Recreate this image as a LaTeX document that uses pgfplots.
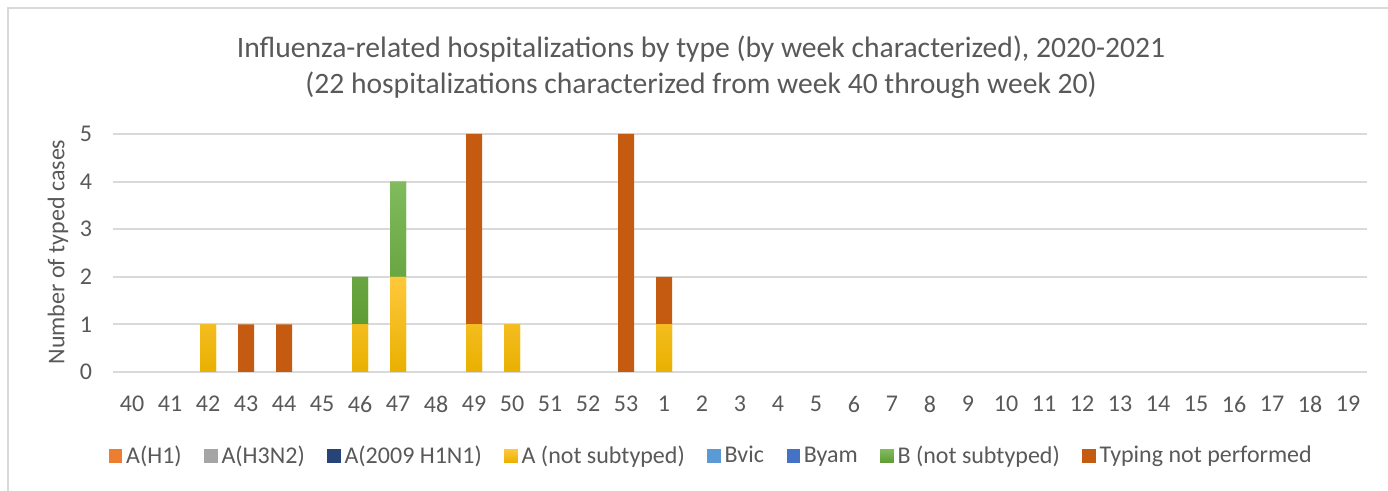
\documentclass[border=0pt]{standalone}
\usepackage{fontspec}
\setmainfont{Carlito}
\usepackage{pgfplots}
\usepackage{pgfplotstable}
\pgfplotsset{compat=1.18}
\definecolor{txt}{HTML}{595959}
\definecolor{gridc}{HTML}{D9D9D9}
\definecolor{cAH1}{HTML}{ED7D31}
\definecolor{cH3}{HTML}{A5A5A5}
\definecolor{c09}{HTML}{264478}
\definecolor{cA}{HTML}{FFC000}
\definecolor{cAtop}{HTML}{FFC83C}
\definecolor{cAbot}{HTML}{E9B000}
\definecolor{cBv}{HTML}{5B9BD5}
\definecolor{cBy}{HTML}{4472C4}
\definecolor{cB}{HTML}{70AD47}
\definecolor{cBtop}{HTML}{80BB5E}
\definecolor{cBbot}{HTML}{5E9C34}
\definecolor{cT}{HTML}{C55A11}
\pgfplotstableread{
x AH1 H3 H09 A Bv By B T
0 0 0 0 0 0 0 0 0
1 0 0 0 0 0 0 0 0
2 0 0 0 1 0 0 0 0
3 0 0 0 0 0 0 0 1
4 0 0 0 0 0 0 0 1
5 0 0 0 0 0 0 0 0
6 0 0 0 1 0 0 1 0
7 0 0 0 2 0 0 2 0
8 0 0 0 0 0 0 0 0
9 0 0 0 1 0 0 0 4
10 0 0 0 1 0 0 0 0
11 0 0 0 0 0 0 0 0
12 0 0 0 0 0 0 0 0
13 0 0 0 0 0 0 0 5
14 0 0 0 1 0 0 0 1
15 0 0 0 0 0 0 0 0
16 0 0 0 0 0 0 0 0
17 0 0 0 0 0 0 0 0
18 0 0 0 0 0 0 0 0
19 0 0 0 0 0 0 0 0
20 0 0 0 0 0 0 0 0
21 0 0 0 0 0 0 0 0
22 0 0 0 0 0 0 0 0
23 0 0 0 0 0 0 0 0
24 0 0 0 0 0 0 0 0
25 0 0 0 0 0 0 0 0
26 0 0 0 0 0 0 0 0
27 0 0 0 0 0 0 0 0
28 0 0 0 0 0 0 0 0
29 0 0 0 0 0 0 0 0
30 0 0 0 0 0 0 0 0
31 0 0 0 0 0 0 0 0
32 0 0 0 0 0 0 0 0
}\data
\begin{document}
\begin{tikzpicture}
\useasboundingbox (0,0) rectangle (694pt,245.5pt);
\draw[gridc, line width=1pt] (4pt,-1pt) -- (4pt,241.5pt) -- (695pt,241.5pt);
\node[txt, font=\fontsize{14.8}{18}\selectfont, align=center] at (350.5pt,211.8pt) {Influenza-related hospitalizations by type (by week characterized), 2020-2021\\(22 hospitalizations characterized from week 40 through week 20)};
\node[txt, rotate=90, font=\fontsize{12}{14}\selectfont] at (29pt,119.5pt) {Number of typed cases};
\begin{axis}[at={(56.5pt,59.5pt)}, anchor=south west, width=627pt, height=119pt, scale only axis,
  ybar stacked, bar width=8pt,
  xmin=-0.5, xmax=32.5, ymin=0, ymax=5,
  ytick={0,1,2,3,4,5},
  xtick={0,...,32},
  xticklabels={40,41,42,43,44,45,46,47,48,49,50,51,52,53,1,2,3,4,5,6,7,8,9,10,11,12,13,14,15,16,17,18,19},
  axis line style={draw=none}, major tick length=0pt,
  ymajorgrids, grid style={gridc, line width=1pt},
  tick label style={txt, font=\fontsize{12}{14}\selectfont},
  /pgf/number format/assume math mode=true,
  xticklabel shift=8.5pt, yticklabel shift=7pt,
  legend columns=8,
  legend style={draw=none, at={(0.478,-0.353)}, anchor=center, font=\fontsize{12}{14}\selectfont, text=txt,
    /tikz/every even column/.append style={column sep=9.3pt}},
  legend image code/.code={\fill[#1] (0pt,-3.3pt) rectangle (6.6pt,3.3pt);},
]
\addplot[fill=cAH1, draw=none] table[x=x,y=AH1]{\data};
\addplot[fill=cH3, draw=none] table[x=x,y=H3]{\data};
\addplot[fill=c09, draw=none] table[x=x,y=H09]{\data};
\addplot[fill=cA, draw=none, top color=cAtop, bottom color=cAbot] table[x=x,y=A]{\data};
\addplot[fill=cBv, draw=none] table[x=x,y=Bv]{\data};
\addplot[fill=cBy, draw=none] table[x=x,y=By]{\data};
\addplot[fill=cB, draw=none, top color=cBtop, bottom color=cBbot] table[x=x,y=B]{\data};
\addplot[fill=cT, draw=none] table[x=x,y=T]{\data};
\legend{A(H1),A(H3N2),A(2009 H1N1),A (not subtyped),Bvic,Byam,B (not subtyped),Typing not performed}
\end{axis}
\end{tikzpicture}
\end{document}
